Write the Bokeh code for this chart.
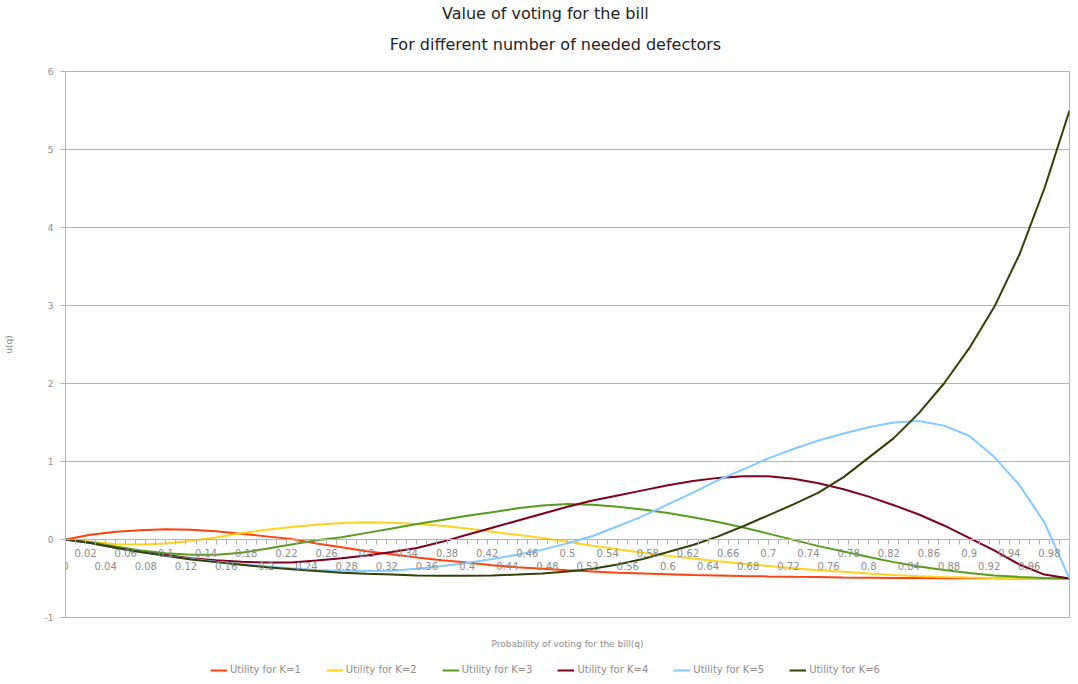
from bokeh.plotting import figure
from bokeh.layouts import column
from bokeh.models import (Range1d, FixedTicker, LinearAxis, Legend, LegendItem,
                          CustomJSTickFormatter)
from bokeh.core.properties import value
from bokeh.embed import file_html
from bokeh.resources import INLINE

# ---------------- data ----------------
q = [0.0, 0.025, 0.05, 0.075, 0.1, 0.125, 0.15, 0.175, 0.2, 0.225, 0.25,
     0.275, 0.3, 0.325, 0.35, 0.375, 0.4, 0.425, 0.45, 0.475, 0.5, 0.525,
     0.55, 0.575, 0.6, 0.625, 0.65, 0.675, 0.7, 0.725, 0.75, 0.775, 0.8,
     0.825, 0.85, 0.875, 0.9, 0.925, 0.95, 0.975, 1.0]

utility_k1 = [0, 0.06, 0.10, 0.12, 0.13, 0.125, 0.105, 0.075, 0.04, 0.005, -0.05,
              -0.10, -0.15, -0.19, -0.23, -0.265, -0.295, -0.33, -0.355, -0.375, -0.395,
              -0.41, -0.425, -0.435, -0.445, -0.455, -0.46, -0.467, -0.473, -0.478, -0.482,
              -0.486, -0.489, -0.492, -0.494, -0.496, -0.497, -0.498, -0.499, -0.5, -0.5]
utility_k2 = [0, -0.03, -0.06, -0.065, -0.05, -0.015, 0.025, 0.08, 0.125, 0.16, 0.19,
              0.21, 0.22, 0.215, 0.2, 0.175, 0.14, 0.1, 0.06, 0.02, -0.03,
              -0.08, -0.125, -0.17, -0.21, -0.245, -0.28, -0.31, -0.34, -0.37, -0.395,
              -0.415, -0.435, -0.455, -0.47, -0.48, -0.488, -0.494, -0.497, -0.499, -0.5]
utility_k3 = [0, -0.035, -0.09, -0.14, -0.175, -0.195, -0.195, -0.17, -0.12, -0.065, -0.01,
              0.03, 0.085, 0.14, 0.2, 0.25, 0.305, 0.35, 0.4, 0.435, 0.455,
              0.445, 0.42, 0.385, 0.34, 0.285, 0.225, 0.155, 0.075, -0.005, -0.085,
              -0.155, -0.225, -0.29, -0.345, -0.39, -0.43, -0.46, -0.48, -0.495, -0.5]
utility_k4 = [0, -0.045, -0.105, -0.16, -0.2, -0.24, -0.265, -0.285, -0.295, -0.295, -0.27,
              -0.24, -0.205, -0.16, -0.11, -0.03, 0.06, 0.15, 0.24, 0.33, 0.42,
              0.5, 0.565, 0.63, 0.695, 0.75, 0.79, 0.81, 0.81, 0.78, 0.72,
              0.645, 0.55, 0.44, 0.32, 0.18, 0.02, -0.14, -0.32, -0.45, -0.5]
utility_k5 = [0, -0.045, -0.105, -0.16, -0.21, -0.25, -0.285, -0.315, -0.345, -0.37, -0.39,
              -0.4, -0.405, -0.4, -0.375, -0.34, -0.3, -0.25, -0.195, -0.13, -0.05,
              0.045, 0.17, 0.3, 0.45, 0.6, 0.76, 0.9, 1.04, 1.16, 1.27,
              1.36, 1.44, 1.5, 1.52, 1.46, 1.33, 1.06, 0.7, 0.22, -0.5]
utility_k6 = [0, -0.045, -0.105, -0.16, -0.21, -0.255, -0.29, -0.325, -0.355, -0.38, -0.405,
              -0.425, -0.44, -0.45, -0.46, -0.465, -0.465, -0.46, -0.45, -0.435, -0.41,
              -0.375, -0.32, -0.25, -0.16, -0.07, 0.04, 0.17, 0.31, 0.45, 0.6,
              0.8, 1.05, 1.3, 1.62, 2.0, 2.45, 2.98, 3.65, 4.5, 5.5]

series = [utility_k1, utility_k2, utility_k3, utility_k4, utility_k5, utility_k6]
series_labels = ["Utility for K=1", "Utility for K=2", "Utility for K=3",
                 "Utility for K=4", "Utility for K=5", "Utility for K=6"]
series_colors = ["#ff420e", "#ffd320", "#579d1c", "#7e0021", "#83caff", "#314004"]

y_ticks = [-1, 0, 1, 2, 3, 4, 5, 6]
x_tick_marks = [round(i * 0.01, 2) for i in range(101)]
x_labels_upper = [round(0.02 + i * 0.04, 2) for i in range(25)]
x_labels_lower = [round(i * 0.04, 2) for i in range(25)]

title_lines = ["Value of voting for the bill",
               "For different number of needed defectors"]
x_title = "Probability of voting for the bill(q)"
y_title = "u(q)"

# ---------------- styling / layout ----------------
FONT = "DejaVu Sans"
LINE_GRAY = "#b3b3b3"
TEXT_GRAY = "#8c8c8c"
DARK = "#222222"
W = 1070
HEADER_H = 62
MAIN_H = 590
LEGEND_H = 24

# ---------------- header (title + subtitle) ----------------
header = figure(width=W, height=HEADER_H, x_range=Range1d(0, 1),
                y_range=Range1d(HEADER_H, 0), title=None,
                x_axis_location=None, y_axis_location=None,
                output_backend="svg", toolbar_location=None, min_border=0)
header.outline_line_color = None
header.grid.visible = False
header.text(x=[0.478, 0.488], y=[13, 44], text=title_lines,
            text_font=value(FONT), text_font_size="16px", text_color=DARK,
            text_align="center", text_baseline="middle")

# ---------------- main plot ----------------
p = figure(width=W, height=MAIN_H, x_range=Range1d(0, 1), y_range=Range1d(-1, 6),
           output_backend="svg", toolbar_location=None, title=None,
           min_border_left=61, min_border_right=1, min_border_top=9,
           min_border_bottom=35)
p.background_fill_color = "white"
p.border_fill_color = "white"
p.outline_line_color = LINE_GRAY

p.xgrid.visible = False
p.ygrid.ticker = FixedTicker(ticks=y_ticks)
p.ygrid.grid_line_color = LINE_GRAY
p.ygrid.grid_line_width = 1

ya = p.yaxis[0]
ya.ticker = FixedTicker(ticks=y_ticks)
ya.formatter = CustomJSTickFormatter(code="return tick.toString()")
ya.axis_line_color = LINE_GRAY
ya.major_tick_line_color = LINE_GRAY
ya.major_tick_out = 5
ya.major_tick_in = 0
ya.minor_tick_line_color = None
ya.major_label_standoff = 7
ya.major_label_text_font = FONT
ya.major_label_text_font_size = "9px"
ya.major_label_text_color = TEXT_GRAY
ya.axis_label = y_title
ya.axis_label_text_font = FONT
ya.axis_label_text_font_size = "9px"
ya.axis_label_text_font_style = "normal"
ya.axis_label_text_color = TEXT_GRAY
ya.axis_label_standoff = 28

xa = p.xaxis[0]
xa.ticker = FixedTicker(ticks=[])
xa.axis_line_color = None
xa.major_tick_out = 0
xa.major_tick_in = 0
xa.minor_tick_out = 0
xa.minor_tick_line_color = None
xa.major_tick_line_color = None
xa.axis_label = x_title
xa.axis_label_text_font = FONT
xa.axis_label_text_font_size = "9px"
xa.axis_label_text_font_style = "normal"
xa.axis_label_text_color = TEXT_GRAY
xa.axis_label_standoff = 21

label_fmt = CustomJSTickFormatter(code="return String(Number(tick.toFixed(2)))")

# category axis crossing at y = 0: tick marks
tick_axis = LinearAxis(fixed_location=0, ticker=FixedTicker(ticks=x_tick_marks),
                       formatter=CustomJSTickFormatter(code="return ''"),
                       axis_line_color=LINE_GRAY, major_tick_line_color=LINE_GRAY,
                       major_tick_out=5, major_tick_in=0, minor_tick_line_color=None)
p.add_layout(tick_axis, "below")

# staggered labels (two rows)
for ticks, standoff in ((x_labels_upper, 9), (x_labels_lower, 22)):
    ax = LinearAxis(fixed_location=0, ticker=FixedTicker(ticks=ticks),
                    formatter=label_fmt, axis_line_color=None,
                    major_tick_line_color=None, minor_tick_line_color=None,
                    major_tick_out=0, major_tick_in=0,
                    major_label_standoff=standoff,
                    major_label_text_font=FONT, major_label_text_font_size="10px",
                    major_label_text_color=TEXT_GRAY)
    p.add_layout(ax, "below")

for vals, col in zip(series, series_colors):
    p.line(q, vals, line_color=col, line_width=2)

# ---------------- legend strip ----------------
lf = figure(width=W, height=LEGEND_H, x_range=Range1d(0, 1), y_range=Range1d(-1, 6),
            title=None, x_axis_location=None, y_axis_location=None,
            output_backend="svg", toolbar_location=None, min_border=0)
lf.outline_line_color = None
lf.grid.visible = False
items = []
for vals, lab, col in zip(series, series_labels, series_colors):
    r = lf.line(q, vals, line_color=col, line_width=2, visible=False)
    items.append(LegendItem(label=lab, renderers=[r]))
legend = Legend(items=items, orientation="horizontal", location=(145, 1),
                label_text_font=FONT, label_text_font_size="10px",
                label_text_color=TEXT_GRAY, glyph_width=17, glyph_height=10,
                label_height=10, label_standoff=3, spacing=25, padding=2,
                margin=0, border_line_color=None, background_fill_alpha=0,
                inactive_fill_alpha=0)
lf.add_layout(legend)

layout = column(header, p, lf, spacing=0)
open("out.html", "w").write(file_html(layout, INLINE))
